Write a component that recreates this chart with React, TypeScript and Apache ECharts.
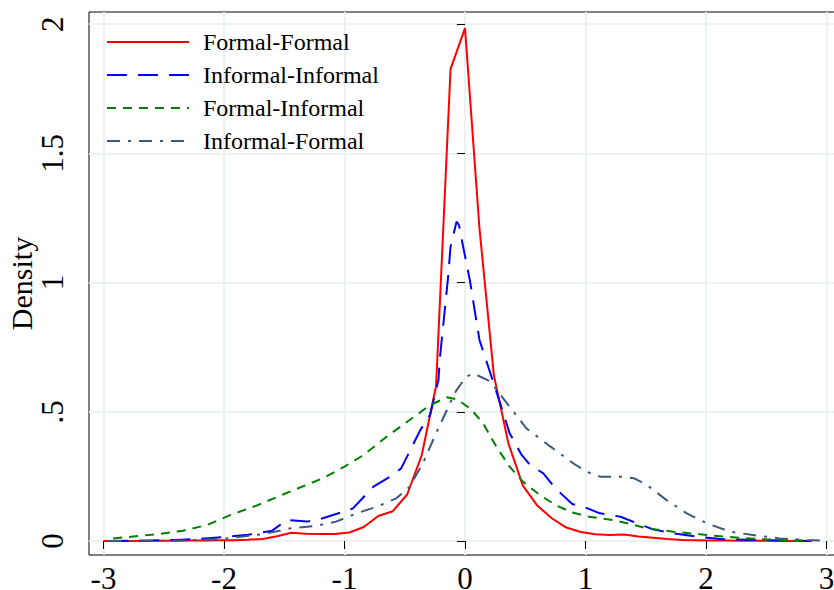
import React, { useEffect, useRef } from "react";
import * as echarts from "echarts";

// ---- Data ----
const seriesNames = ["Formal-Formal", "Informal-Informal", "Formal-Informal", "Informal-Formal"];

const formalFormalX = [
  -3.0, -2.88, -2.76, -2.64, -2.52, -2.4, -2.28, -2.16, -2.04, -1.92,
  -1.8, -1.68, -1.56, -1.44, -1.32, -1.2, -1.08, -0.96, -0.84, -0.72,
  -0.6, -0.48, -0.36, -0.24, -0.12, 0.0, 0.12, 0.24, 0.36, 0.48,
  0.6, 0.72, 0.84, 0.96, 1.08, 1.2, 1.32, 1.44, 1.56, 1.68,
  1.8, 1.92, 2.04, 2.16, 2.28, 2.4, 2.52, 2.64, 2.76, 2.88,
];
const formalFormalY = [
  0.0, 0.0, 0.0, 0.001, 0.001, 0.001, 0.002, 0.002, 0.003, 0.003,
  0.005, 0.008, 0.018, 0.032, 0.028, 0.027, 0.027, 0.033, 0.054, 0.097,
  0.115, 0.18, 0.33, 0.6, 1.826, 1.985, 1.21, 0.64, 0.378, 0.214,
  0.137, 0.088, 0.052, 0.035, 0.026, 0.023, 0.025, 0.017, 0.013, 0.008,
  0.004, 0.003, 0.002, 0.002, 0.001, 0.001, 0.001, 0.0, 0.0, 0.0,
];

const informalInformalX = [
  -2.96, -2.6, -2.4, -2.2, -2.0, -1.8, -1.7, -1.6, -1.48, -1.31,
  -1.18, -1.01, -0.93, -0.76, -0.6, -0.53, -0.37, -0.29, -0.22, -0.21,
  -0.14, -0.12, -0.07, -0.05, -0.01, 0.04, 0.12, 0.21, 0.31, 0.37,
  0.47, 0.54, 0.65, 0.75, 0.89, 0.98, 1.12, 1.29, 1.43, 1.56,
  1.73, 1.92, 2.14, 2.42, 2.86,
];
const informalInformalY = [
  0.0, 0.002, 0.004, 0.008, 0.015, 0.024, 0.032, 0.04, 0.081, 0.075,
  0.088, 0.113, 0.126, 0.21, 0.255, 0.281, 0.43, 0.488, 0.623, 0.7,
  1.023, 1.139, 1.236, 1.223, 1.126, 1.01, 0.778, 0.65, 0.507, 0.417,
  0.333, 0.294, 0.262, 0.204, 0.143, 0.133, 0.107, 0.094, 0.068, 0.045,
  0.03, 0.017, 0.007, 0.004, 0.0,
];

const formalInformalX = [
  -2.92, -2.56, -2.34, -2.14, -1.95, -1.73, -1.51, -1.18, -1.0, -0.84,
  -0.65, -0.46, -0.29, -0.15, -0.06, 0.05, 0.15, 0.26, 0.37, 0.48,
  0.62, 0.76, 0.89, 1.03, 1.23, 1.37, 1.51, 1.73, 1.95, 2.14,
  2.42, 2.7, 2.86,
];
const formalInformalY = [
  0.01, 0.026, 0.04, 0.062, 0.1, 0.137, 0.18, 0.243, 0.288, 0.333,
  0.404, 0.468, 0.526, 0.556, 0.547, 0.51, 0.455, 0.365, 0.288, 0.23,
  0.178, 0.137, 0.11, 0.094, 0.081, 0.066, 0.049, 0.036, 0.026, 0.017,
  0.008, 0.003, 0.001,
];

const informalFormalX = [
  -2.96, -2.42, -2.01, -1.67, -1.45, -1.23, -1.07, -0.9, -0.73, -0.57,
  -0.46, -0.35, -0.24, -0.15, -0.1, -0.07, 0.01, 0.07, 0.21, 0.37,
  0.51, 0.71, 0.9, 1.01, 1.12, 1.29, 1.4, 1.51, 1.67, 1.84,
  2.01, 2.2, 2.42, 2.61, 2.84, 2.97,
];
const informalFormalY = [
  0.0, 0.001, 0.008, 0.027, 0.049, 0.059, 0.075, 0.107, 0.133, 0.165,
  0.21, 0.3, 0.417, 0.507, 0.558, 0.584, 0.636, 0.649, 0.617, 0.52,
  0.436, 0.365, 0.3, 0.268, 0.249, 0.249, 0.243, 0.217, 0.159, 0.107,
  0.068, 0.036, 0.021, 0.01, 0.004, 0.001,
];

const xTicks = [-3, -2, -1, 0, 1, 2, 3];
const xTickLabels = ["-3", "-2", "-1", "0", "1", "2", "3"];
const yTicks = [0, 0.5, 1, 1.5, 2];
const yTickLabels = ["0", ".5", "1", "1.5", "2"];
const yAxisTitle = "Density";

const colors = ["#ff0000", "#0000ff", "#008000", "#3a5a7c"];
const dashes: any[] = ["solid", [20, 11], [9, 7], [13, 8, 3, 8]];

const FONT = "'Liberation Serif', 'Times New Roman', serif";

function zip(xs: number[], ys: number[]) {
  return xs.map((x, i) => [x, ys[i]]);
}

export default function App() {
  const ref = useRef<HTMLDivElement>(null);

  useEffect(() => {
    if (!ref.current) return;
    const chart = echarts.init(ref.current, null, { renderer: "svg" });
    const datasets = [
      zip(formalFormalX, formalFormalY),
      zip(informalInformalX, informalInformalY),
      zip(formalInformalX, formalInformalY),
      zip(informalFormalX, informalFormalY),
    ];
    const gridColor = "#eaf2f3";
    chart.setOption({
      animation: false,
      backgroundColor: "#ffffff",
      grid: {
        left: 89,
        right: -6,
        top: 12,
        bottom: 35,
        containLabel: false,
        outerBoundsMode: "none",
        show: true,
        borderColor: "#000",
        borderWidth: 1,
        backgroundColor: "transparent",
      },
      legend: {
        orient: "vertical",
        left: 101,
        top: 25,
        itemWidth: 82,
        itemHeight: 14,
        itemGap: 9,
        data: seriesNames,
        itemStyle: { opacity: 0 },
        textStyle: {
          fontFamily: FONT,
          fontSize: 24,
          lineHeight: 24,
          color: "#000",
          padding: [0, 0, 0, 9],
        },
      },
      xAxis: {
        type: "value",
        min: -3.1203,
        max: 3.112,
        axisLine: { show: false },
        axisTick: {
          show: true,
          length: 8,
          customValues: xTicks,
          lineStyle: { color: "#000", width: 1 },
        },
        axisLabel: {
          customValues: xTicks,
          formatter: (v: number) => {
            const i = xTicks.indexOf(v);
            return i >= 0 ? xTickLabels[i] : "";
          },
          fontFamily: FONT,
          fontSize: 31,
          color: "#000",
          margin: 8,
        },
        splitLine: { show: true, lineStyle: { color: gridColor, width: 2 } },
      },
      yAxis: {
        type: "value",
        min: -0.0542,
        max: 2.0472,
        name: yAxisTitle,
        nameLocation: "middle",
        nameGap: 53,
        nameMoveOverlap: false,
        nameTextStyle: { fontFamily: FONT, fontSize: 30, color: "#000" },
        axisLine: { show: false },
        axisTick: {
          show: true,
          length: 8,
          customValues: yTicks,
          lineStyle: { color: "#000", width: 1 },
        },
        axisLabel: {
          customValues: yTicks,
          rotate: 90,
          formatter: (v: number) => {
            const i = yTicks.indexOf(v);
            return i >= 0 ? yTickLabels[i] : "";
          },
          fontFamily: FONT,
          fontSize: 31,
          color: "#000",
          margin: 21,
        },
        splitLine: { show: true, lineStyle: { color: gridColor, width: 2 } },
      },
      series: seriesNames.map((name, i) => ({
        name,
        type: "line",
        data: datasets[i],
        symbol: "none",
        showSymbol: false,
        smooth: false,
        silent: true,
        lineStyle: { color: colors[i], width: 2, type: dashes[i] },
        itemStyle: { color: colors[i] },
      })),
    });
    return () => chart.dispose();
  }, []);

  return (
    <div
      ref={ref}
      style={{ position: "fixed", left: 0, top: 0, width: 834, height: 590, background: "#fff" }}
    />
  );
}
